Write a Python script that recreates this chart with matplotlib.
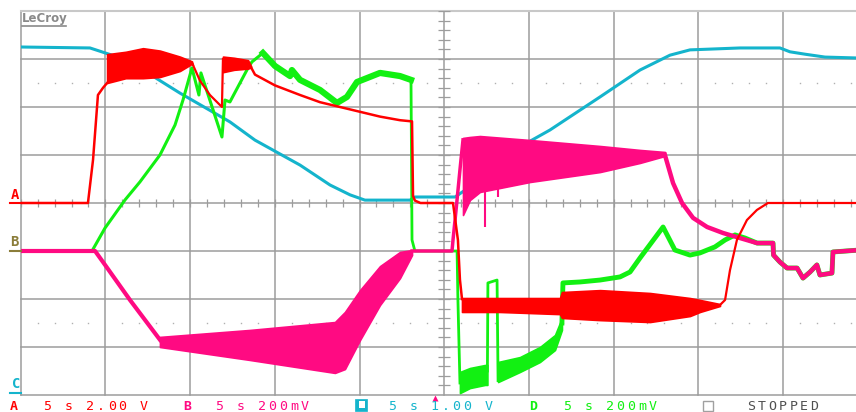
import matplotlib.pyplot as plt
from matplotlib.patches import Rectangle
import numpy as np

W, H = 856, 412

# scope settings: volts/div and trace offset in divisions
timebase = 5.0  # s/div
a_scale, a_offset = 2.0, 0.0
b_scale, b_offset = 0.2, -1.0
c_scale, c_offset = 1.0, -4.0
d_scale, d_offset = 0.2, -1.0

# ---- channel A (red), volts ----
a_t1 = [0, 3.97, 4.27, 4.56, 4.86, 5.10]
a_v1 = [0, 0, 1.8, 4.5, 4.8, 5.0]
a_bt1 = [5.10, 6.20, 7.22, 8.22, 9.40, 10.11, 10.17]
a_bu1 = [6.2, 6.3, 6.45, 6.35, 6.1, 5.9, 5.75]
a_bl1 = [5.0, 5.2, 5.2, 5.25, 5.5, 5.8, 5.75]
a_t2 = [10.17, 10.58, 11.17, 11.88, 11.94]
a_v2 = [5.75, 5.1, 4.5, 4.0, 6.0]
a_bt2 = [11.94, 12.6, 13.42, 13.6]
a_bu2 = [6.1, 6.05, 5.95, 5.7]
a_bl2 = [5.45, 5.55, 5.6, 5.65]
a_t3 = [13.6, 13.83, 15.01, 16.49, 17.67, 18.85, 20.03, 21.21, 22.39, 23.10,
        23.16, 23.27, 23.6, 25.52, 25.81, 25.93, 26.05]
a_v3 = [5.65, 5.35, 4.9, 4.5, 4.2, 4.0, 3.8, 3.6, 3.45, 3.4,
        0.3, 0.1, 0, 0, -1.54, -3.2, -4.0]
a_bt3 = [26.05, 28.29, 31.83, 31.95, 34.20, 37.15, 39.51, 40.10, 41.28]
a_bu3 = [-3.96, -3.96, -3.96, -3.71, -3.63, -3.75, -3.96, -4.04, -4.21]
a_bl3 = [-4.54, -4.54, -4.63, -4.79, -4.88, -4.96, -4.71, -4.54, -4.29]
a_t4 = [41.28, 41.58, 41.87, 42.28, 42.87, 43.46, 44.11, 49.5]
a_v4 = [-4.25, -4.04, -2.8, -1.54, -0.71, -0.29, 0, 0]

# ---- channel B (magenta), volts ----
b_t1 = [0, 4.39, 4.98, 6.45, 8.22]
b_v1 = [0, 0, -0.058, -0.204, -0.37]
b_bt1 = [8.22, 13.53, 18.55, 19.14, 20.03, 21.21, 22.39, 23.10]
b_bu1 = [-0.358, -0.329, -0.296, -0.254, -0.163, -0.063, -0.004, 0.004]
b_bl1 = [-0.40, -0.454, -0.508, -0.492, -0.371, -0.225, -0.113, -0.017]
b_t2 = [23.10, 25.46, 25.52, 25.70, 25.93, 26.11]
b_v2 = [0, 0, 0.046, 0.171, 0.338, 0.463]
b_bt2 = [26.11, 26.52, 27.11, 30.06, 34.20, 36.56, 38.03]
b_bu2 = [0.471, 0.475, 0.479, 0.4625, 0.4375, 0.421, 0.4125]
b_bl2 = [0.15, 0.2125, 0.246, 0.2875, 0.329, 0.367, 0.396]
b_spike_t = [27.41, 28.18]
b_spike_v = [0.10, 0.225]
b_t3 = [38.03, 38.51, 39.04, 39.69, 40.52, 41.46, 42.46, 43.47, 44.41, 44.44,
        44.82, 45.24, 45.83, 46.18, 46.59, 47.00, 47.18, 47.89, 47.95, 49.5]
b_v3 = [0.40, 0.283, 0.20, 0.138, 0.10, 0.075, 0.054, 0.033, 0.033, -0.017,
        -0.046, -0.071, -0.071, -0.113, -0.088, -0.058, -0.10, -0.092, -0.004, 0.004]

# ---- channel C (cyan), volts ----
c_t = [0, 4.09, 5.39, 7.04, 9.40, 12.35, 13.83, 16.49, 18.26, 19.44, 20.32,
       22.98, 23.27, 25.64, 27.11, 29.47, 31.24, 34.20, 36.56, 38.33, 39.51,
       42.46, 44.82, 45.41, 46.30, 47.48, 49.5]
c_v = [7.25, 7.23, 7.08, 6.81, 6.29, 5.69, 5.31, 4.79, 4.375, 4.17, 4.06,
       4.06, 4.125, 4.125, 4.48, 5.17, 5.52, 6.21, 6.77, 7.08, 7.19,
       7.23, 7.23, 7.15, 7.10, 7.04, 7.02]

# ---- channel D (green), volts ----
d_t1 = [0, 4.21, 4.98, 6.16, 7.04, 8.22, 9.11, 9.58, 10.11, 10.52, 10.64,
        11.88, 12.06, 12.35, 13.42, 13.65, 14.30]
d_v1 = [0, 0, 0.096, 0.213, 0.288, 0.40, 0.525, 0.629, 0.763, 0.65, 0.742,
        0.475, 0.629, 0.621, 0.763, 0.788, 0.825]
d_t2 = [14.30, 15.01, 15.90, 16.01, 16.49, 17.67, 18.67, 19.26, 19.85, 21.21, 22.39, 23.04]
d_v2 = [0.825, 0.771, 0.729, 0.754, 0.713, 0.671, 0.617, 0.642, 0.704, 0.742, 0.729, 0.713]
d_t3 = [23.04, 23.10, 23.27, 25.76, 25.81, 25.93]
d_v3 = [0.713, 0.046, 0, 0, -0.204, -0.55]
d_bt1 = [25.93, 26.52, 27.41, 27.55]
d_bu1 = [-0.504, -0.4875, -0.475, -0.475]
d_bl1 = [-0.592, -0.571, -0.558, -0.558]
d_t4 = [27.55, 27.58, 28.12, 28.18]
d_v4 = [-0.50, -0.133, -0.121, -0.54]
d_bt2 = [28.18, 29.47, 30.65, 31.54, 31.95]
d_bu2 = [-0.4625, -0.442, -0.40, -0.35, -0.279]
d_bl2 = [-0.546, -0.504, -0.4625, -0.4125, -0.329]
d_t5 = [31.95, 32.01, 33.02, 34.20, 35.38, 35.97, 36.56, 37.92, 38.62, 39.51,
        40.10, 40.98, 41.58, 42.17, 42.76, 43.47, 44.41, 44.44, 44.82, 45.24,
        45.83, 46.18, 46.59, 47.00, 47.18, 47.89, 47.95, 49.5]
d_v5 = [-0.30, -0.133, -0.129, -0.121, -0.108, -0.0875, -0.029, 0.10, 0.004, -0.017,
        -0.008, 0.017, 0.046, 0.067, 0.054, 0.033, 0.033, -0.017, -0.046, -0.071,
        -0.071, -0.113, -0.088, -0.058, -0.10, -0.092, -0.004, 0.004]

RED = '#ff0000'
MAG = '#ff0a82'
CYAN = '#14b4cc'
GREEN = '#12f012'
GRID = '#9c9c9c'

fig = plt.figure(figsize=(W / 100, H / 100), dpi=100)
fig.patch.set_facecolor('white')
rect = [20.7 / W, (H - 395) / H, 847 / W, 384 / H]

# graticule, in divisions
grat = fig.add_axes(rect)
grat.set_xlim(0, 10)
grat.set_ylim(-4, 4)
grat.set_axis_off()
for x in range(1, 10):
    grat.plot([x, x], [-4, 4], color=GRID, lw=1.1, clip_on=False)
for y in range(-3, 4):
    grat.plot([0, 10], [y, y], color=GRID, lw=1.1, clip_on=False)
grat.plot([0, 0], [-4, 4], color=GRID, lw=1.1, clip_on=False)
grat.plot([0, 10], [-4, -4], color=GRID, lw=1.1, clip_on=False)
grat.plot([0, 10], [4, 4], color='#c8c8c8', lw=1.5, clip_on=False)
# minor ticks on the centre axes
yt = np.arange(-4, 4.01, 0.2)
grat.hlines(yt, 5 - 0.07, 5 + 0.07, color=GRID, lw=0.9)
xt = np.arange(0, 10.01, 0.2)
grat.vlines(xt, -0.075, 0.075, color=GRID, lw=0.9)
# dotted rows at +/-2.5 div
xd = np.array([x for x in np.arange(0.2, 10, 0.2) if abs(x - round(x)) > 0.01])
for yy in (2.5, -2.5):
    grat.plot(xd, np.full_like(xd, yy), ls='none', marker='s', ms=1.0,
              color='#b0b0b0', mec='none')


def channel_axes(scale, offset):
    ax = fig.add_axes(rect)
    ax.set_xlim(0, 10 * timebase)
    ax.set_ylim((-4 - offset) * scale, (4 - offset) * scale)
    ax.set_axis_off()
    return ax


def band(ax, t, lo, hi, color):
    ax.fill_between(t, lo, hi, color=color, lw=1.2, edgecolor=color)


ax_c = channel_axes(c_scale, c_offset)
ax_c.plot(c_t, c_v, color=CYAN, lw=2.2)

ax_d = channel_axes(d_scale, d_offset)
ax_d.plot(d_t1, d_v1, color=GREEN, lw=2.2)
ax_d.plot(d_t2, d_v2, color=GREEN, lw=4.5)
ax_d.plot(d_t3, d_v3, color=GREEN, lw=2.0)
band(ax_d, d_bt1, d_bl1, d_bu1, GREEN)
ax_d.plot(d_t4, d_v4, color=GREEN, lw=2.0)
band(ax_d, d_bt2, d_bl2, d_bu2, GREEN)
ax_d.plot(d_t5, d_v5, color=GREEN, lw=3.5)

ax_b = channel_axes(b_scale, b_offset)
ax_b.plot(b_t1, b_v1, color=MAG, lw=3.0)
band(ax_b, b_bt1, b_bl1, b_bu1, MAG)
ax_b.plot(b_t2, b_v2, color=MAG, lw=2.5)
band(ax_b, b_bt2, b_bl2, b_bu2, MAG)
ax_b.vlines(b_spike_t, b_spike_v, 0.3, color=MAG, lw=1.5)
ax_b.plot(b_t3, b_v3, color=MAG, lw=3.2)

ax_a = channel_axes(a_scale, a_offset)
ax_a.plot(a_t1, a_v1, color=RED, lw=1.8)
band(ax_a, a_bt1, a_bl1, a_bu1, RED)
ax_a.plot(a_t2, a_v2, color=RED, lw=1.6)
band(ax_a, a_bt2, a_bl2, a_bu2, RED)
ax_a.plot(a_t3, a_v3, color=RED, lw=1.8)
band(ax_a, a_bt3, a_bl3, a_bu3, RED)
ax_a.plot(a_t4, a_v4, color=RED, lw=1.6)


def fx(x):
    return x / W


def fy(y):
    return 1 - y / H


# ground markers on the left edge
fig.text(fx(15), fy(195), 'A', color=RED, fontsize=10, fontweight='bold',
         family='DejaVu Sans Mono', ha='center', va='center')
fig.add_artist(plt.Line2D([fx(10), fx(21)], [fy(203), fy(203)], color=RED, lw=1.5))
fig.text(fx(14), fy(242), 'B', color='#8b7d3a', fontsize=10, fontweight='bold',
         family='DejaVu Sans Mono', ha='center', va='center')
fig.add_artist(plt.Line2D([fx(10), fx(21)], [fy(251), fy(251)], color='#8b7d3a', lw=1.5))
fig.text(fx(16), fy(384), 'C', color=CYAN, fontsize=10, fontweight='bold',
         family='DejaVu Sans Mono', ha='center', va='center')
fig.add_artist(plt.Line2D([fx(10), fx(21)], [fy(393), fy(393)], color=CYAN, lw=1.5))

# brand
fig.text(fx(22), fy(18.5), 'LeCroy', color='#8a8a8a', fontsize=8.5, fontweight='bold',
         family='DejaVu Sans', ha='left', va='center')
fig.add_artist(plt.Line2D([fx(22), fx(66)], [fy(25.5), fy(25.5)], color='#8a8a8a', lw=1.2))

# trigger marker
fig.add_artist(plt.Line2D([fx(435)], [fy(398)], marker='^', ms=5, color=MAG, mec='none'))


def mono(x0, s, color, step=10.7, weight='normal'):
    for i, ch in enumerate(s):
        if ch == ' ':
            continue
        fig.text(fx(x0 + i * step), fy(407), ch, color=color, fontsize=9.5,
                 fontweight=weight, family='DejaVu Sans Mono',
                 ha='center', va='center')


mono(13.5, 'A', RED, weight='bold')
mono(47.5, '5 s 2.00 V', RED)
mono(187.5, 'B', MAG, weight='bold')
mono(219, '5 s 200mV', MAG)
fig.add_artist(Rectangle((fx(355), fy(411)), 12 / W, 12 / H, facecolor=CYAN,
                         edgecolor=CYAN, lw=0.5))
fig.add_artist(Rectangle((fx(359), fy(408)), 6 / W, 7 / H, facecolor='white',
                         edgecolor='none'))
mono(392, '5 s 1.00 V', CYAN)
mono(533.5, 'D', GREEN, weight='bold')
mono(567, '5 s 200mV', GREEN)
fig.add_artist(Rectangle((fx(703), fy(411)), 10 / W, 10 / H, facecolor='none',
                         edgecolor='#a0a0a0', lw=1.0))
mono(751.5, 'STOPPED', '#505050', step=10.5)

fig.savefig('out.png', dpi=100, facecolor='white')
